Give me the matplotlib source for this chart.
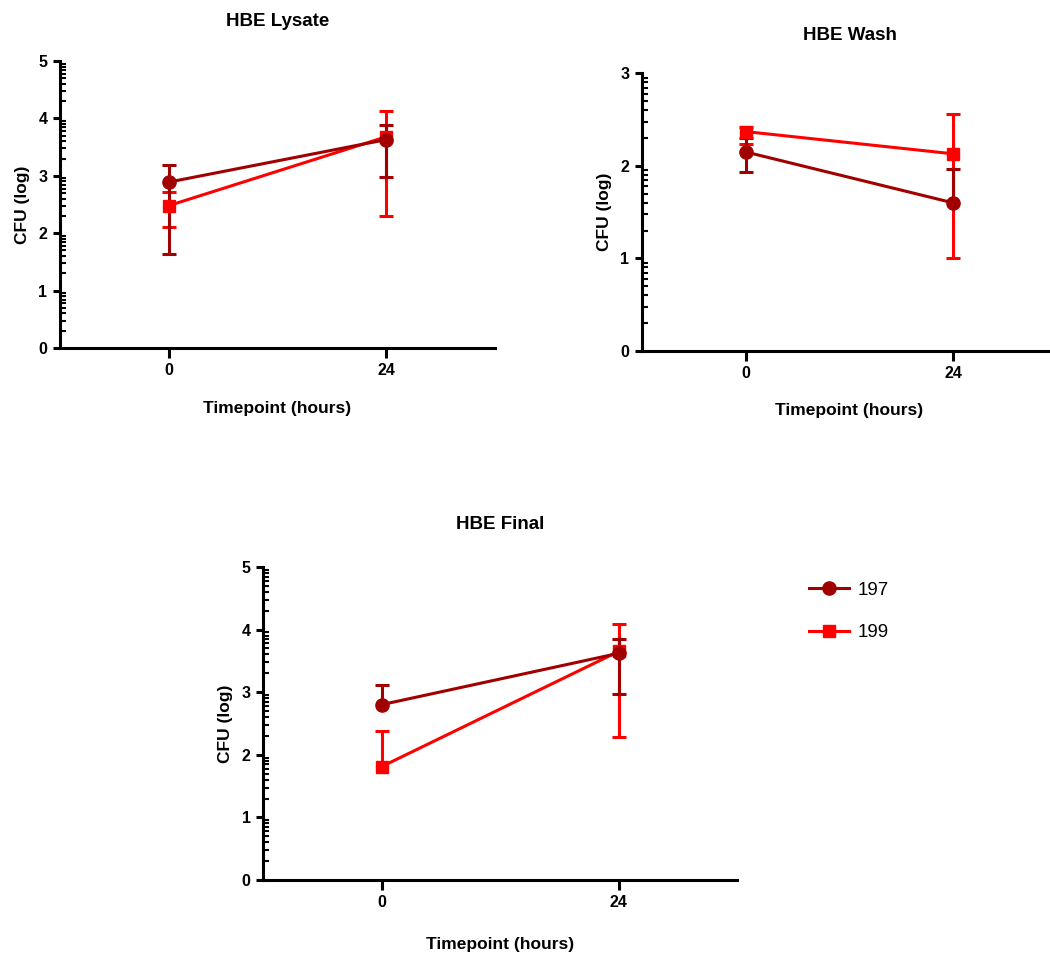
import numpy as np
import matplotlib
matplotlib.use('Agg')
import matplotlib.pyplot as plt
from matplotlib.ticker import FixedLocator

plt.rcParams['font.family'] = ['Liberation Sans', 'DejaVu Sans']

# timepoints (hours)
timepoints = [0, 24]

# log CFU means and error bar ends (nan = no bar drawn on that side)
lysate_197 = [2.89, 3.63]
lysate_197_hi = [3.19, 3.88]
lysate_197_lo = [1.64, 2.98]
lysate_199 = [2.48, 3.68]
lysate_199_hi = [2.71, 4.13]
lysate_199_lo = [2.11, 2.30]

wash_197 = [2.15, 1.60]
wash_197_hi = [2.30, 1.97]
wash_197_lo = [1.93, np.nan]
wash_199 = [2.37, 2.13]
wash_199_hi = [2.42, 2.56]
wash_199_lo = [2.24, 1.00]

final_197 = [2.80, 3.62]
final_197_hi = [3.11, 3.85]
final_197_lo = [np.nan, 2.97]
final_199 = [1.81, 3.65]
final_199_hi = [2.38, 4.09]
final_199_lo = [np.nan, 2.28]

DARK = '#a00000'
RED = '#ff0000'


def draw_series(ax, mean, hi, lo, color, marker, ms):
    x = np.array(timepoints, dtype=float)
    mean = np.array(mean, dtype=float)
    hi = np.array(hi, dtype=float)
    lo = np.array(lo, dtype=float)
    has_lo = ~np.isnan(lo)
    bottom = np.where(has_lo, lo, mean)
    ax.vlines(x, bottom, hi, colors=color, linewidth=2.2, zorder=3)
    ax.plot(x, hi, '_', color=color, ms=10, mew=2.2, zorder=3)
    ax.plot(x[has_lo], lo[has_lo], '_', color=color, ms=10, mew=2.2, zorder=3)
    line, = ax.plot(x, mean, '-', color=color, lw=2.2, marker=marker,
                    ms=ms, zorder=4)
    return line


def style_axes(ax, title, ymax, xpad=16, tpad=25):
    ax.set_xlim(-12, 36)
    ax.set_ylim(0, ymax)
    for side in ['top', 'right']:
        ax.spines[side].set_visible(False)
    for side in ['left', 'bottom']:
        ax.spines[side].set_linewidth(2.2)
    ax.set_xticks(timepoints)
    ax.set_yticks(range(ymax + 1))
    minors = [n + np.log10(k) for n in range(ymax) for k in range(2, 10)]
    ax.yaxis.set_minor_locator(FixedLocator(minors))
    ax.tick_params(axis='x', length=7, width=2.2, pad=4,
                   labelsize=11.5)
    ax.tick_params(axis='y', which='major', length=5, width=2.2, pad=4,
                   labelsize=11.5)
    ax.tick_params(axis='y', which='minor', direction='in', length=4.5,
                   width=1.5)
    for lab in ax.get_xticklabels() + ax.get_yticklabels():
        lab.set_fontweight('bold')
    ax.set_xlabel('Timepoint (hours)', fontsize=12.5, fontweight='bold',
                  labelpad=xpad)
    ax.set_ylabel('CFU (log)', fontsize=12.5, fontweight='bold',
                  labelpad=6)
    ax.set_title(title, fontsize=13.5, fontweight='bold', pad=tpad)


fig = plt.figure(figsize=(10.5, 9.59), dpi=100)

ax1 = fig.add_axes([0.0571, 0.6371, 0.4143, 0.2993])
draw_series(ax1, lysate_199, lysate_199_hi, lysate_199_lo, RED, 's', 8.5)
draw_series(ax1, lysate_197, lysate_197_hi, lysate_197_lo, DARK, 'o', 9.5)
style_axes(ax1, 'HBE Lysate', 5, xpad=16.5, tpad=25.5)

ax2 = fig.add_axes([0.6114, 0.634, 0.3952, 0.2896])
draw_series(ax2, wash_199, wash_199_hi, wash_199_lo, RED, 's', 8.5)
draw_series(ax2, wash_197, wash_197_hi, wash_197_lo, DARK, 'o', 9.5)
style_axes(ax2, 'HBE Wash', 3, xpad=15.5, tpad=24)

ax3 = fig.add_axes([0.2505, 0.0824, 0.4514, 0.3264])
l199 = draw_series(ax3, final_199, final_199_hi, final_199_lo, RED, 's', 8.5)
l197 = draw_series(ax3, final_197, final_197_hi, final_197_lo, DARK, 'o', 9.5)
style_axes(ax3, 'HBE Final', 5, xpad=19, tpad=27.5)

fig.legend([l197, l199], ['197', '199'], loc='upper left',
           bbox_to_anchor=(0.762, 0.403), frameon=False, fontsize=13.5,
           handlelength=2.1, handletextpad=0.45, labelspacing=1.35,
           borderpad=0)

fig.savefig('out.png', dpi=100)
plt.close(fig)
